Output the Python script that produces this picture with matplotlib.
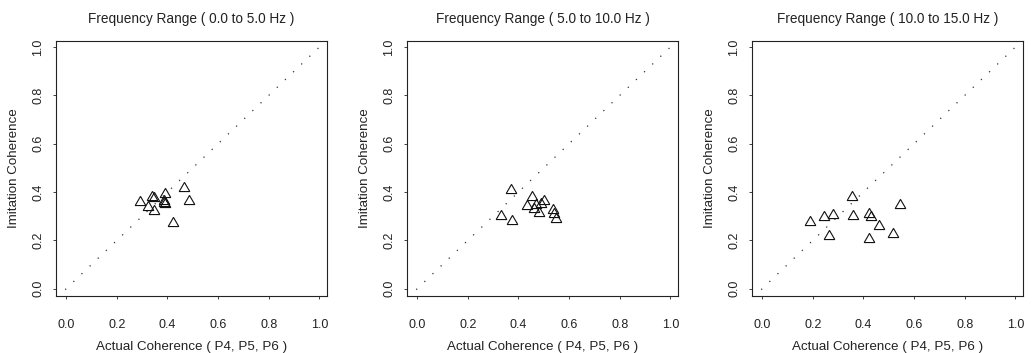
import matplotlib
matplotlib.use("Agg")
import matplotlib.pyplot as plt

plt.rcParams['font.family'] = ['Liberation Sans', 'DejaVu Sans']

titles = ['Frequency Range ( 0.0 to 5.0 Hz )',
          'Frequency Range ( 5.0 to 10.0 Hz )',
          'Frequency Range ( 10.0 to 15.0 Hz )']

# actual coherence (P4, P5, P6) vs imitation coherence
x_low = [0.29, 0.325, 0.34, 0.345, 0.345, 0.39, 0.385, 0.39, 0.387, 0.42, 0.466, 0.485]
y_low = [0.36, 0.34, 0.38, 0.375, 0.32, 0.39, 0.365, 0.35, 0.355, 0.27, 0.415, 0.365]

x_mid = [0.33, 0.37, 0.375, 0.433, 0.453, 0.46, 0.47, 0.48, 0.49, 0.50, 0.538, 0.54, 0.547]
y_mid = [0.30, 0.41, 0.28, 0.343, 0.38, 0.328, 0.345, 0.314, 0.35, 0.364, 0.325, 0.31, 0.29]

x_high = [0.19, 0.246, 0.28, 0.265, 0.354, 0.36, 0.423, 0.43, 0.423, 0.46, 0.516, 0.543]
y_high = [0.277, 0.295, 0.305, 0.22, 0.38, 0.30, 0.31, 0.297, 0.204, 0.26, 0.225, 0.348]

xs = [x_low, x_mid, x_high]
ys = [y_low, y_mid, y_high]

ticks = [0.0, 0.2, 0.4, 0.6, 0.8, 1.0]
tick_labels = ['0.0', '0.2', '0.4', '0.6', '0.8', '1.0']

fig = plt.figure(figsize=(10.32, 3.53), dpi=100)
lefts = [56, 407, 752]
for i in range(3):
    ax = fig.add_axes([lefts[i] / 1032, 57 / 353, 271 / 1032, 255 / 353])
    ax.plot([-0.1, 1.1], [-0.1, 1.1], color='#333333', linewidth=0.9,
            linestyle=(0, (1, 8)))
    ax.plot(xs[i], ys[i], linestyle='none', marker=(3, 0, 0), markersize=8.8,
            markerfacecolor='none', markeredgecolor='#111111', markeredgewidth=0.8)
    ax.set_xlim(-0.04, 1.03)
    ax.set_ylim(-0.03, 1.025)
    ax.set_xticks(ticks)
    ax.set_xticklabels(tick_labels)
    ax.set_yticks(ticks)
    ax.set_yticklabels(tick_labels, rotation=90, va='center')
    ax.tick_params(direction='out', length=2, width=0.6, labelsize=9,
                   colors='#222222')
    ax.tick_params(axis='x', pad=14.5)
    ax.tick_params(axis='y', pad=6.5)
    for s in ax.spines.values():
        s.set_linewidth(0.8)
        s.set_color('#222222')
    ax.set_title(titles[i], fontsize=9.8, pad=13, color='#222222')
    ax.set_xlabel('Actual Coherence ( P4, P5, P6 )', fontsize=9.6, labelpad=7.5,
                  color='#222222')
    ax.set_ylabel('Imitation Coherence', fontsize=9.6, labelpad=9,
                  color='#222222')

fig.savefig('out.png', dpi=100)
